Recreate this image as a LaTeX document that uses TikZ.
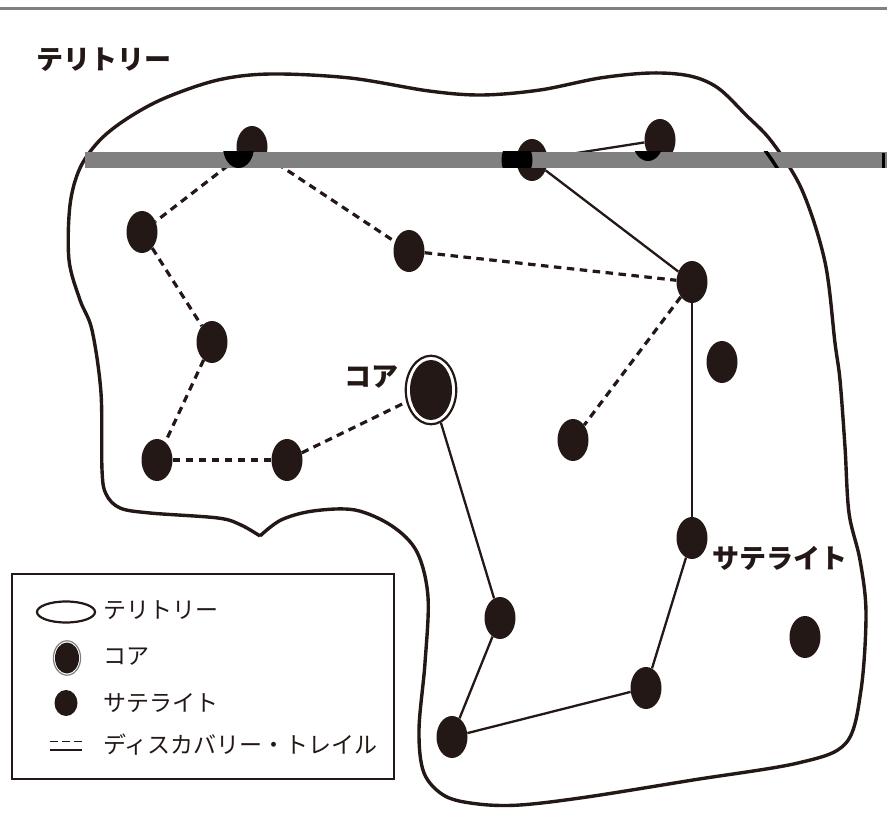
\documentclass[tikz,border=0pt]{standalone}
\usepackage{fontspec}
\newfontfamily\jp{Noto Sans CJK JP}
\usetikzlibrary{shapes.geometric}
\definecolor{ink}{RGB}{35,24,21}
\definecolor{bargray}{RGB}{128,128,128}
\def\territory{(260,536) (281,520) (313,511) (355,510) (392,526) (417,552) (428,597) (425,663) (419,730) (424,773) (445,796) (478,804) (520,805) (587,797) (693,780) (798,763) (846,743) (861,690) (866,613) (860,560) (849,513) (845,447) (840,380) (835,343) (825,262) (802,190) (772,142) (746,115) (718,88) (690,76) (651,73) (600,78) (540,90) (482,95) (429,91) (350,78) (271,74) (218,80) (165,98) (128,118) (100,140) (80,168) (70,205) (69,260) (80,300) (92,330) (101,393) (102,470) (106,494) (120,508) (150,513) (218,518) (241,525) (260,536)}
\begin{document}
\begin{tikzpicture}[x=1pt,y=-1pt,
  sat/.style={ellipse, fill=ink, inner sep=0pt, minimum width=31pt, minimum height=42pt},
  trail/.style={draw=ink, line width=3.2pt, dash pattern=on 7.5pt off 5.5pt},
  link/.style={draw=ink, line width=2.3pt},
  lbl/.style={font=\jp\bfseries\fontsize{27}{27}\selectfont, inner sep=0pt, text=ink},
  leg/.style={font=\jp\fontsize{23}{23}\selectfont, inner sep=0pt, anchor=west, text=ink}]
\useasboundingbox (0,0) rectangle (887,818);
\fill[white] (0,0) rectangle (887,818);
\draw[bargray, line width=2.5pt] (0,8.5) -- (887,8.5);
% territory
\draw[ink, line width=3.4pt, line join=round] plot[smooth, tension=0.55] coordinates {\territory};
% satellites
\node[sat] (A) at (252,147) {};
\node[sat] (B) at (142,232) {};
\node[sat] (C) at (212,342) {};
\node[sat] (D) at (157,460) {};
\node[sat] (E) at (287,460) {};
\node[sat] (F) at (409,251) {};
\node[sat] (G) at (532,160) {};
\node[sat] (H) at (660,140) {};
\node[sat] (I) at (692,282) {};
\node[sat] (J) at (722,362) {};
\node[sat] (K) at (573,440) {};
\node[sat] (L) at (692,538) {};
\node[sat] (M) at (500,618) {};
\node[sat] (N) at (646,688) {};
\node[sat] (O) at (452,737) {};
\node[sat] (P) at (805,637) {};
% core
\node[ellipse, draw=ink, line width=2.2pt, fill=white, inner sep=0pt, minimum width=50.5pt, minimum height=68.5pt] (core) at (431,390) {};
\fill[ink] (core.center) ellipse [x radius=21, y radius=30];
% discovery trails
\draw[trail] (A) -- (B);
\draw[trail] (B) -- (C);
\draw[trail] (C) -- (D);
\draw[trail] (D) -- (E);
\draw[trail] (E) -- (core);
\draw[trail] (A) -- (F);
\draw[trail] (F) -- (I);
\draw[trail] (I) -- (K);
% solid links
\draw[link] (G) -- (H);
\draw[link] (G) -- (I);
\draw[link] (I) -- (L);
\draw[link] (L) -- (N);
\draw[link] (N) -- (O);
\draw[link] (O) -- (M);
\draw[link] (M) -- (core);
% labels
\node[lbl] (tTerr) at (104,60) {テリトリー};
\node[lbl] (tCore) at (371,377) {コア};
\node[lbl] (tSat) at (780,558) {サテライト};
% legend
\draw[ink, line width=2.2pt, fill=white] (12,574) rectangle (394,779);
\draw[ink, line width=2.2pt] (66,612) ellipse [x radius=29, y radius=10.5];
\draw[gray, line width=1.2pt] (67,658) ellipse [x radius=13.6, y radius=17.2];
\fill[ink] (67,658) ellipse [x radius=12, y radius=15.5];
\fill[ink] (66,703) ellipse [x radius=11.5, y radius=13];
\draw[ink, line width=1.6pt, dash pattern=on 8pt off 4pt] (50,741.5) -- (82,741.5);
\draw[ink, line width=1.6pt] (50,750) -- (82,750);
\node[leg] (l1) at (103,610) {テリトリー};
\node[leg] (l2) at (103,657) {コア};
\node[leg] (l3) at (103,703) {サテライト};
\node[leg] (l4) at (103,745) {ディスカバリー・トレイル};
% scan artefact bar
\fill[bargray] (85,152) rectangle (887,168);
\begin{scope}
\clip (85,152) rectangle (887,168);
\fill[black] (238.5,147) ellipse [x radius=15.5, y radius=21];
\fill[black] (517,160) ellipse [x radius=15.5, y radius=21];
\fill[black] (648,140) ellipse [x radius=15.5, y radius=21];
\draw[black, line width=3.4pt, xshift=-13pt] plot[smooth, tension=0.55] coordinates {\territory};
\end{scope}
\fill[black] (882,153) rectangle (884.5,168);
\end{tikzpicture}
\end{document}
